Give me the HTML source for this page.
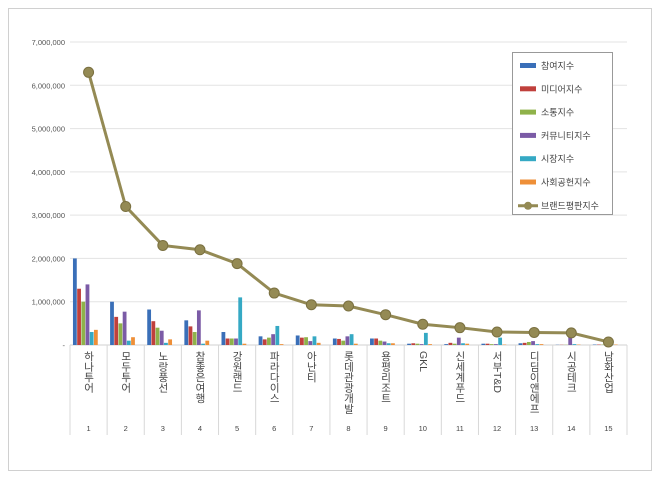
<!DOCTYPE html>
<html><head><meta charset="utf-8"><style>
body{margin:0;background:#fff;}
svg text{font-family:"Liberation Sans","Noto Sans CJK KR",sans-serif;}
</style></head><body>
<svg id="c" width="660" height="480" xmlns="http://www.w3.org/2000/svg">
<rect x="8.5" y="8.5" width="643" height="462" fill="#fff" stroke="#d0d0d0"/>
<g id="grid"></g><g id="bars"></g><g id="line"></g><g id="xl"></g>
<g>
<rect x="512.5" y="52.5" width="100" height="162" fill="#fff" stroke="#999"/>
<g id="leg"></g></g>
</svg>
<script>
const categories=["하나투어","모두투어","노랑풍선","참좋은여행","강원랜드","파라다이스","아난티","롯데관광개발","용평리조트","GKL","신세계푸드","서부T&D","디딤이앤에프","시공테크","남화산업"];
const participation=[2.0,1.0,0.82,0.57,0.3,0.2,0.22,0.15,0.15,0.03,0.02,0.03,0.04,0.005,0.01];
const media=[1.3,0.65,0.55,0.43,0.15,0.13,0.17,0.14,0.15,0.04,0.05,0.03,0.05,0.005,0.01];
const communication=[1.0,0.5,0.4,0.3,0.15,0.17,0.18,0.1,0.1,0.03,0.03,0.02,0.07,0.005,0.01];
const community=[1.4,0.77,0.33,0.8,0.15,0.25,0.09,0.2,0.08,0.02,0.17,0.02,0.09,0.2,0.02];
const market=[0.3,0.1,0.05,0.03,1.1,0.44,0.2,0.25,0.04,0.28,0.04,0.17,0.02,0.02,0.03];
const social=[0.35,0.18,0.13,0.1,0.03,0.02,0.05,0.03,0.04,0.02,0.03,0.01,0.02,0.01,0.01];
const reputation=[6.3,3.2,2.3,2.2,1.88,1.2,0.93,0.9,0.7,0.48,0.4,0.3,0.29,0.28,0.07];
const yTicks=[0,1,2,3,4,5,6,7];
const yTickLabels=["-","1,000,000","2,000,000","3,000,000","4,000,000","5,000,000","6,000,000","7,000,000"];
const seriesNames=["참여지수","미디어지수","소통지수","커뮤니티지수","시장지수","사회공헌지수"];
const colors=["#3a6fb8","#c0403c","#8fb24a","#7b5ba6","#35a9c4","#ee8f38"];
const lineName="브랜드평판지수";
const NS="http://www.w3.org/2000/svg";
const X0=70,X1=627,Y0=345,Y1=42;
const cw=(X1-X0)/categories.length;
const y=v=>Y0-(v/7)*(Y0-Y1);
const xc=i=>X0+cw*(i+0.5);
function mk(t,a,p){const e=document.createElementNS(NS,t);for(const k in a)e.setAttribute(k,a[k]);p.appendChild(e);return e;}
const grid=document.getElementById('grid');
yTicks.forEach((t,i)=>{
 const l=mk('line',{x1:X0,x2:X1,y1:y(t),y2:y(t),stroke:i?'#e3e3e3':'#d0d0d0'},grid);
 
 
 const tx=mk('text',{x:X0-5,y:y(t)+3,'text-anchor':'end','font-size':'7.5',fill:'#555'},grid);tx.textContent=yTickLabels[i];
 
 
});
const series=[participation,media,communication,community,market,social];
const bars=document.getElementById('bars');const bw=4.2;
categories.forEach((c,i)=>{
 series.forEach((s,j)=>{
  const x=xc(i)-3*bw+j*bw-3;
  const r=mk('rect',{x:x,y:y(s[i]),width:bw-0.4,height:Y0-y(s[i]),fill:colors[j]},bars);
  
  
 });
});
const xl=document.getElementById('xl');
for(let i=0;i<=categories.length;i++){mk('line',{x1:X0+cw*i,x2:X0+cw*i,y1:Y0,y2:435,stroke:'#d8d8d8'},xl);}
categories.forEach((c,i)=>{
 const t=mk('text',{'font-size':'10.5',fill:'#444','writing-mode':'tb','glyph-orientation-vertical':'0',x:xc(i),y:351},xl);t.textContent=c;
 
 
 const n=mk('text',{x:xc(i),y:431,'text-anchor':'middle','font-size':'7.5',fill:'#444'},xl);n.textContent=String(i+1);
 
 
});
const lg=document.getElementById('line');
const pl=mk('polyline',{points:reputation.map((v,i)=>xc(i)+','+y(v)).join(' '),fill:'none',stroke:'#948a54','stroke-width':'3'},lg);


reputation.forEach((v,i)=>{const c=mk('circle',{cx:xc(i),cy:y(v),r:5,fill:'#948a54',stroke:'#7a7040'},lg);
 
 });
const leg=document.getElementById('leg');
seriesNames.forEach((n,j)=>{const yy=66+j*23.3;
 mk('rect',{x:520,y:yy-3,width:16,height:5,fill:colors[j]},leg);
 const t=mk('text',{x:541,y:yy+3,'font-size':'9',fill:'#444'},leg);t.textContent=n;
 
 });
const ly=66+6*23.3;
mk('line',{x1:518,x2:538,y1:ly,y2:ly,stroke:'#948a54','stroke-width':'3'},leg);
mk('circle',{cx:528,cy:ly,r:4,fill:'#948a54'},leg);
const lt=mk('text',{x:541,y:ly+3,'font-size':'9',fill:'#444'},leg);lt.textContent=lineName;


</script>
</body></html>
